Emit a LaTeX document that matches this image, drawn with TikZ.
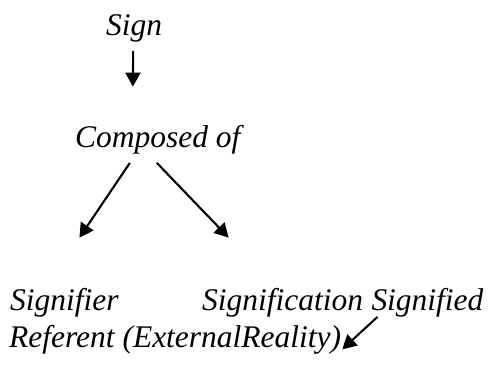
\documentclass[tikz,border=0pt]{standalone}
\usepackage{fontspec}
\setmainfont{Liberation Serif}[ItalicFont={Liberation Serif Italic}]
\usepackage{tikz}
\usetikzlibrary{arrows.meta,positioning,calc}

\tikzset{
    word/.style={inner sep=0pt, anchor=base west},
    arr/.style={-{Triangle[length=14bp,width=15bp]}, line width=2.1bp}
}

\begin{document}
\begin{tikzpicture}[x=1bp, y=1bp, font=\fontsize{31.6}{38}\selectfont\itshape]
    \useasboundingbox (0,0) rectangle (490,374);

    % Labels
    \node[word] (sign) at (106, 339) {Sign};
    \node[word] (composed) at (75, 227) {Composed of};
    \node[word] (signifier) at (10, 64) {Signifier};
    \node[word] (signification) at (202, 64) {Signification};
    \node[word] (signified) at ([xshift=8bp]signification.base east) {Signified};
    \node[word] (referent) at (9, 27) {Referent (ExternalReality)};

    % Sign is composed of
    \draw[arr] ([xshift=-1bp, yshift=-9bp]sign.south) -- ([xshift=-25bp, yshift=38bp]composed.north);

    % Two branches
    \draw[arr] ([xshift=-28bp, yshift=-9bp]composed.south) -- ([xshift=15bp, yshift=50bp]signifier.north);
    \draw[arr] ([xshift=-1bp, yshift=-9bp]composed.south) -- ([xshift=-54bp, yshift=50bp]signification.north);

    % Signified points to the referent
    \draw[arr] ([xshift=-50bp]signified.south) -- ([xshift=1bp, yshift=-10bp]referent.east);
\end{tikzpicture}
\end{document}
